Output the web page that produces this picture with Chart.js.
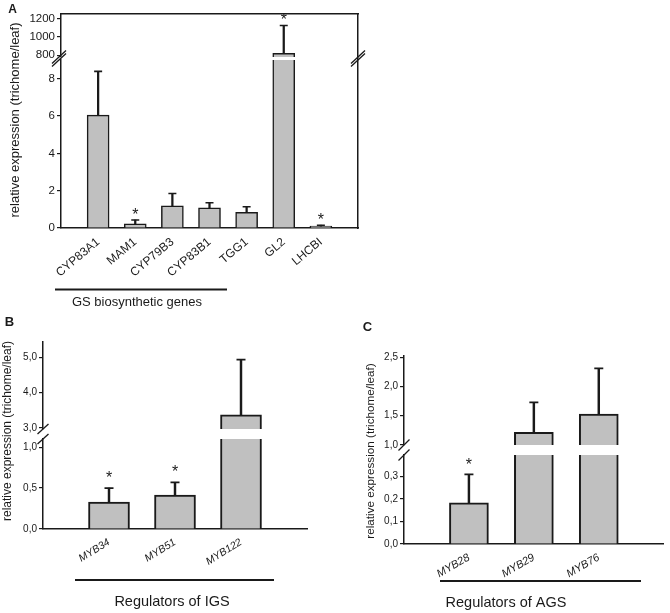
<!DOCTYPE html>
<html><head><meta charset="utf-8">
<script src="https://cdn.jsdelivr.net/npm/chart.js@4.4.1/dist/chart.umd.min.js"></script>
<style>
html,body{margin:0;padding:0;background:#fff;}
#wrap{position:relative;width:670px;height:613px;overflow:hidden;}
canvas{position:absolute;}
</style></head><body>
<div id="wrap">
<canvas id="cA" width="370" height="312" style="left:0;top:0;width:370px;height:312px"></canvas>
<canvas id="cB" width="330" height="303" style="left:0;top:310px;width:330px;height:303px"></canvas>
<canvas id="cC" width="340" height="303" style="left:330px;top:310px;width:340px;height:303px"></canvas>
</div>
<script>
// ---------------- DATA ----------------
const genesA = ['CYP83A1','MAM1','CYP79B3','CYP83B1','TGG1','GL2','LHCBI'];
const meanA  = [6.05, 0.23, 1.19, 1.08, 0.84, 820, 0.10];
const errA   = [2.34, 0.20, 0.66, 0.27, 0.30, 305, 0.05];
const starA  = [false, true, false, false, false, true, true];
const tickLabelsA_low = ['0','2','4','6','8'];
const tickLabelsA_up  = ['800','1000','1200'];

const genesB = ['MYB34','MYB51','MYB122'];
const meanB  = [0.33, 0.415, 3.37];
const errB   = [0.17, 0.155, 1.57];
const starB  = [true, true, false];
const tickLabelsB_low = ['0,0','0,5','1,0'];
const tickLabelsB_up  = ['3,0','4,0','5,0'];

const genesC = ['MYB28','MYB29','MYB76'];
const meanC  = [0.183, 1.215, 1.528];
const errC   = [0.127, 0.512, 0.78];
const starC  = [true, false, false];
const tickLabelsC_low = ['0,0','0,1','0,2','0,3'];
const tickLabelsC_up  = ['1,0','1,5','2,0','2,5'];

const yTitleText = 'relative expression (trichome/leaf)';
// --------------------------------------

const FONT = '"Liberation Sans", Arial, sans-serif';
const INK = '#1a1a1a';
const toVal = s => parseFloat(s.replace(',', '.'));

function makeChart(id, o) {
  const labels = ['', ...o.cats, ''];
  const pad = a => [null, ...a, null];
  const lowMax = o.low[1];
  const tops = o.mean.map((m, i) => m + o.err[i]);
  const isUp = o.mean.map(m => m > lowMax);
  const barBase = {type: 'bar', backgroundColor: '#c0c0c0', borderColor: INK, barThickness: o.barW, grouped: false, borderSkipped: 'start', order: 3};
  const stemBase = {type: 'bar', backgroundColor: INK, borderWidth: 0, barThickness: o.ew, grouped: false, order: 2};
  const capBase = {type: 'line', showLine: false, pointStyle: 'line', pointRadius: o.cap, pointBorderWidth: o.ew, pointBorderColor: INK, pointBackgroundColor: INK, order: 1};
  const datasets = [
    {...barBase, yAxisID: 'yLow', data: pad(o.mean.map(m => Math.min(m, lowMax))),
      borderWidth: c => { const i = c.dataIndex - 1; return isUp[i] ? {top: 0, left: o.bw, right: o.bw, bottom: 0} : o.bw; }},
    {...barBase, yAxisID: 'yUp', data: pad(o.mean.map(m => m > lowMax ? m : null)), borderWidth: o.bw},
    {...stemBase, yAxisID: 'yLow', data: pad(o.mean.map((m, i) => !isUp[i] ? [m, tops[i]] : null))},
    {...stemBase, yAxisID: 'yUp', data: pad(o.mean.map((m, i) => isUp[i] ? [m, tops[i]] : null))},
    {...capBase, yAxisID: 'yLow', data: pad(tops.map((t, i) => !isUp[i] ? t : null))},
    {...capBase, yAxisID: 'yUp', data: pad(tops.map((t, i) => isUp[i] ? t : null))}
  ];
  const yAxis = (lims, tl, weight) => ({
    type: 'linear', position: 'left', stack: 's', stackWeight: weight,
    min: lims[0], max: lims[1],
    border: {display: true, color: INK, width: 1.5},
    grid: {display: true, drawOnChartArea: false, drawTicks: true, tickLength: 4, color: INK, lineWidth: 1.2},
    ticks: {font: {family: FONT, size: o.tickSize}, color: INK, padding: 2, autoSkip: false,
      callback: (v, i) => tl[i]},
    afterBuildTicks: s => { s.ticks = tl.map(t => ({value: toVal(t)})); },
    afterFit: s => { s.width = o.left; s.paddingTop = 0; s.paddingBottom = 0; }
  });
  const scales = {
    x: {type: 'category', offset: false,
      grid: {display: false, drawTicks: false},
      border: {display: true, color: INK, width: 1.5},
      ticks: {autoSkip: false, maxRotation: o.rot, minRotation: o.rot, padding: o.xpad,
        font: {family: FONT, size: o.xSize, style: o.xStyle}, color: INK},
      afterFit: s => { s.height = o.xh; s.paddingLeft = 0; s.paddingRight = 0; }},
    yLow: yAxis(o.low, o.ticksLow, o.wLow),
    yGap: {type: 'linear', position: 'left', stack: 's', stackWeight: o.wGap, display: true, min: 0, max: 1,
      ticks: {display: false}, grid: {display: false, drawTicks: false}, border: {display: false},
      afterFit: s => { s.width = o.left; }},
    yUp: yAxis(o.up, o.ticksUp, o.wUp)
  };
  if (o.frame) {
    scales.xT = {type: 'linear', position: 'top', display: true, ticks: {display: false},
      grid: {display: false, drawTicks: false}, border: {display: true, color: INK, width: 1.5},
      afterFit: s => { s.height = 0; s.paddingLeft = 0; s.paddingRight = 0; }};
    scales.yR = {type: 'linear', position: 'right', display: true, ticks: {display: false},
      grid: {display: false, drawTicks: false}, border: {display: true, color: INK, width: 1.5},
      afterFit: s => { s.width = 0; s.paddingTop = 0; s.paddingBottom = 0; }};
  }
  const deco = {
    id: 'deco',
    afterDraw(chart) {
      const ctx = chart.ctx;
      const {x, yLow, yUp} = chart.scales;
      ctx.save();
      ctx.fillStyle = INK;
      // significance stars
      ctx.font = o.starSize + 'px ' + FONT;
      ctx.textAlign = 'center';
      ctx.textBaseline = 'alphabetic';
      o.star.forEach((s, i) => {
        if (!s) return;
        const sc = isUp[i] ? yUp : yLow;
        ctx.fillText('*', x.getPixelForValue(i + 1), sc.getPixelForValue(tops[i]) + o.starDy);
      });
      // axis break marks
      ctx.strokeStyle = INK;
      ctx.lineWidth = 1.3;
      const slash = (cx, cy) => {
        ctx.beginPath();
        ctx.moveTo(cx - o.sw, cy + o.sh);
        ctx.lineTo(cx + o.sw, cy - o.sh);
        ctx.stroke();
      };
      o.breakX.forEach(bx => {
        const px = bx === 'left' ? chart.chartArea.left + o.slashDx : chart.chartArea.right;
        slash(px, yUp.bottom);
        slash(px, yLow.top);
      });
      // y title
      ctx.save();
      ctx.translate(o.yt[0], o.yt[1]);
      ctx.rotate(-Math.PI / 2);
      ctx.font = o.ytSize + 'px ' + FONT;
      ctx.textAlign = 'center';
      ctx.textBaseline = 'middle';
      ctx.fillText(yTitleText, 0, 0);
      ctx.restore();
      // group underline + label
      ctx.lineWidth = 2;
      ctx.beginPath();
      ctx.moveTo(o.ul[0], o.ul[2]);
      ctx.lineTo(o.ul[1], o.ul[2]);
      ctx.stroke();
      ctx.font = o.gSize + 'px ' + FONT;
      ctx.textAlign = 'center';
      ctx.textBaseline = 'middle';
      ctx.fillText(o.group, o.gp[0], o.gp[1]);
      // panel letter
      ctx.font = 'bold ' + o.letterSize + 'px ' + FONT;
      ctx.fillText(o.letter, o.lp[0], o.lp[1]);
      ctx.restore();
    }
  };
  return new Chart(document.getElementById(id), {
    type: 'bar',
    data: {labels, datasets},
    options: {
      responsive: false, maintainAspectRatio: false, animation: false, events: [],
      layout: {padding: o.padding},
      plugins: {legend: {display: false}, tooltip: {enabled: false}, title: {display: false}},
      scales
    },
    plugins: [deco]
  });
}

makeChart('cA', {
  cats: genesA, mean: meanA, err: errA, star: starA,
  ticksLow: tickLabelsA_low, ticksUp: tickLabelsA_up,
  low: [0, 9], up: [780, 1250], wLow: 168, wGap: 3, wUp: 43,
  left: 61, xh: 84, padding: {left: 0, top: 14, right: 12, bottom: 0},
  barW: 22, bw: 1.5, ew: 1.6, cap: 4,
  tickSize: 11.5, xSize: 12, xStyle: 'normal', rot: 40, xpad: 7,
  starSize: 16, starDy: 0, frame: true,
  breakX: ['left', 'right'], slashDx: -2, sw: 7, sh: 6.5,
  yt: [15, 120], ytSize: 13,
  ul: [55, 227, 289.5], group: 'GS biosynthetic genes', gp: [137, 302], gSize: 13,
  letter: 'A', lp: [12.5, 9.5], letterSize: 12
});

makeChart('cB', {
  cats: genesB, mean: meanB, err: errB, star: starB,
  ticksLow: tickLabelsB_low, ticksUp: tickLabelsB_up,
  low: [0, 1.1], up: [2.97, 5.44], wLow: 90, wGap: 10, wUp: 87,
  left: 43, xh: 84, padding: {left: 0, top: 32, right: 23, bottom: 0},
  barW: 41, bw: 2, ew: 1.8, cap: 4.5,
  tickSize: 10, xSize: 10.5, xStyle: 'italic', rot: 32, xpad: 7,
  starSize: 16, starDy: -5, frame: false,
  breakX: ['left'], slashDx: 0, sw: 5.5, sh: 5,
  yt: [7.5, 121], ytSize: 12,
  ul: [75, 274, 270], group: 'Regulators of IGS', gp: [172, 292], gSize: 14.5,
  letter: 'B', lp: [9.5, 12.5], letterSize: 13
});

makeChart('cC', {
  cats: genesC, mean: meanC, err: errC, star: starC,
  ticksLow: tickLabelsC_low, ticksUp: tickLabelsC_up,
  low: [0, 0.396], up: [1.0, 2.52], wLow: 89, wGap: 10, wUp: 89,
  left: 74, xh: 69, padding: {left: 0, top: 46, right: 5, bottom: 0},
  barW: 39, bw: 2, ew: 1.8, cap: 4.5,
  tickSize: 10, xSize: 11, xStyle: 'italic', rot: 30, xpad: 7,
  starSize: 16, starDy: -4, frame: false,
  breakX: ['left'], slashDx: 0, sw: 5.5, sh: 5.5,
  yt: [41, 141], ytSize: 11.7,
  ul: [110, 311, 271], group: 'Regulators of AGS', gp: [176, 293], gSize: 14.5,
  letter: 'C', lp: [37.5, 17.5], letterSize: 13
});
</script>
</body></html>
